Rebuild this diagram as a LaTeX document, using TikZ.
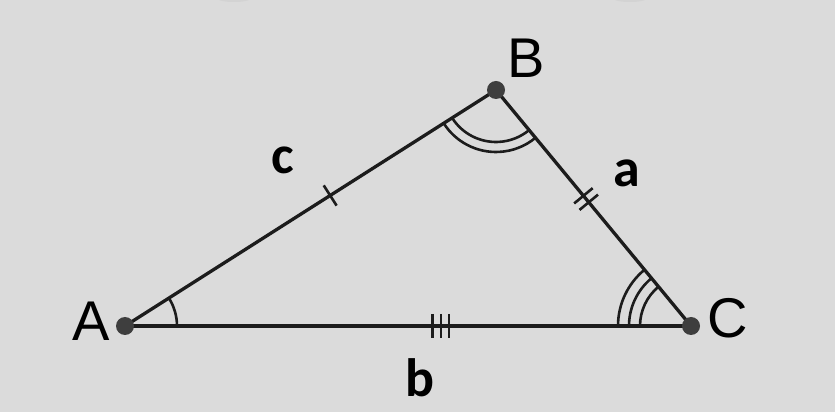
\documentclass[tikz,border=0pt]{standalone}
\usepackage{fontspec}
\setmainfont{Liberation Sans}
\newfontfamily\lblfont{Carlito}
\usetikzlibrary{calc}
\definecolor{bg}{HTML}{DBDBDB}
\definecolor{dotc}{HTML}{3E3E3E}
\definecolor{linec}{HTML}{1C1C1C}
\tikzset{
  side/.style={draw=linec, line width=3.3pt},
  anglearc/.style={draw=linec, line width=2.6pt},
  tickmark/.style={draw=linec, line width=2.6pt},
  vertexdot/.style={circle, fill=dotc, inner sep=0pt, minimum size=18pt},
  vertexlabel/.style={font=\fontsize{56}{56}\selectfont, text=black, inner sep=0pt},
  sidelabel/.style={font=\lblfont\bfseries\fontsize{54}{54}\selectfont, text=black, inner sep=0pt}
}
\newcommand{\drawtick}[2]{\draw[tickmark] ($(#1)!12pt!90:(#2)$) -- ($(#1)!12pt!-90:(#2)$);}
\begin{document}
\begin{tikzpicture}[x=1pt,y=1pt]
\fill[bg] (0,0) rectangle (835,412);
\useasboundingbox (0,0) rectangle (835,412);
% faint shapes at top edge
\fill[gray!40, opacity=0.5] (234,413) ellipse (16 and 3);
\fill[gray!40, opacity=0.5] (630,413) ellipse (16 and 3);
% vertices
\coordinate (A) at (125,86);
\coordinate (B) at (496,322);
\coordinate (C) at (691,86);
% sides
\draw[side] (A) -- (B);
\draw[side] (B) -- (C);
\draw[side] (C) -- (A);
% angle arcs
\draw[anglearc] ([shift={(A)}]0:52) arc (0:32.46:52);
\draw[anglearc] ([shift={(B)}]212.46:52) arc (212.46:309.56:52);
\draw[anglearc] ([shift={(B)}]212.46:62) arc (212.46:309.56:62);
\draw[anglearc] ([shift={(C)}]129.56:51) arc (129.56:180:51);
\draw[anglearc] ([shift={(C)}]129.56:62) arc (129.56:180:62);
\draw[anglearc] ([shift={(C)}]129.56:73) arc (129.56:180:73);
% tick marks
\coordinate (tc) at ($(A)!0.553!(B)$);
\drawtick{tc}{B}
\coordinate (ta) at ($(B)!0.462!(C)$);
\coordinate (ta1) at ($(ta)!4.2pt!(C)$);
\coordinate (ta2) at ($(ta)!-4.2pt!(C)$);
\drawtick{ta1}{C}
\drawtick{ta2}{C}
\coordinate (tb) at ($(A)!0.558!(C)$);
\coordinate (tb1) at ($(tb)!8.3pt!(C)$);
\coordinate (tb2) at ($(tb)!-8.3pt!(C)$);
\drawtick{tb}{C}
\drawtick{tb1}{C}
\drawtick{tb2}{C}
% dots
\node[vertexdot] (dA) at (A) {};
\node[vertexdot] (dB) at (B) {};
\node[vertexdot] (dC) at (C) {};
% vertex labels
\node[vertexlabel] (lA) at (91,91) {A};
\node[vertexlabel] (lB) at (526,354) {B};
\node[vertexlabel] (lC) at (728,94) {C};
% side labels
\node[sidelabel] (lc) at (283,252) {c};
\node[sidelabel] (la) at (627,239) {a};
\node[sidelabel] (lb) at (420,34) {b};
\end{tikzpicture}
\end{document}
